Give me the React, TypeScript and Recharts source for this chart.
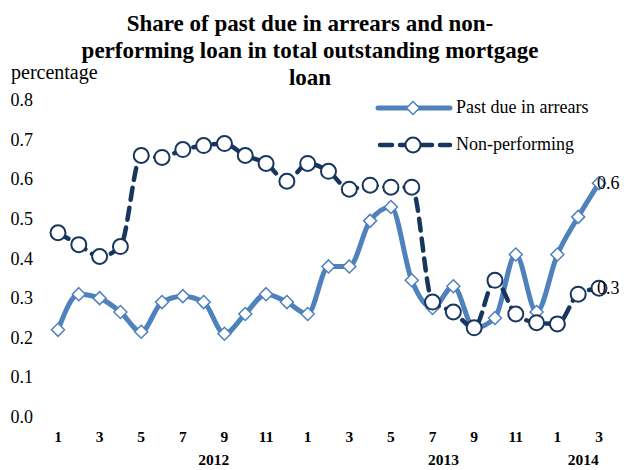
import { LineChart, Line, XAxis, YAxis, Legend, LabelList } from 'recharts';

const MONTHS = [
    '1', '2', '3', '4', '5', '6', '7', '8', '9', '10', '11', '12',
    '1', '2', '3', '4', '5', '6', '7', '8', '9', '10', '11', '12',
    '1', '2', '3',
];
const YEARS = [
    '2012', '2012', '2012', '2012', '2012', '2012', '2012', '2012', '2012', '2012', '2012', '2012',
    '2013', '2013', '2013', '2013', '2013', '2013', '2013', '2013', '2013', '2013', '2013', '2013',
    '2014', '2014', '2014',
];
const PAST_DUE = [
    0.22, 0.31, 0.30, 0.265, 0.215, 0.29, 0.305, 0.29, 0.21, 0.26, 0.31, 0.29,
    0.26, 0.38, 0.38, 0.495, 0.53, 0.345, 0.275, 0.33, 0.225, 0.25, 0.41, 0.265,
    0.41, 0.505, 0.59,
];
const NON_PERFORMING = [
    0.465, 0.435, 0.405, 0.43, 0.66, 0.655, 0.675, 0.685, 0.69, 0.66, 0.64, 0.595,
    0.64, 0.62, 0.575, 0.585, 0.58, 0.58, 0.29, 0.265, 0.225, 0.345, 0.26, 0.238,
    0.235, 0.31, 0.325,
];
// year caption shown under these category indexes
const YEAR_CAPTIONS: Record<number, { text: string; dx: number }> = {
    7: { text: '2012', dx: 10 },
    18: { text: '2013', dx: 11 },
    25: { text: '2014', dx: 5 },
};
const Y_TICKS = [0, 0.1, 0.2, 0.3, 0.4, 0.5, 0.6, 0.7, 0.8];

const FONT = '"Liberation Serif", "Times New Roman", serif';
const BLUE = '#4F81BD';
const NAVY = '#17365D';

const data = MONTHS.map((m, i) => ({
    key: `${YEARS[i]}-${m}`,
    pastDue: PAST_DUE[i],
    nonPerforming: NON_PERFORMING[i],
}));

const Diamond = ({ cx, cy }: any) => (
    <path
        d={`M${cx},${cy - 6.5} L${cx + 6.5},${cy} L${cx},${cy + 6.5} L${cx - 6.5},${cy} Z`}
        fill="#fff"
        stroke={BLUE}
        strokeWidth={1.5}
    />
);

const Ring = ({ cx, cy }: any) => (
    <circle cx={cx} cy={cy} r={7.5} fill="#fff" stroke={NAVY} strokeWidth={2} />
);

const MonthTick = ({ x, index }: any) => {
    const year = YEAR_CAPTIONS[index];
    return (
        <g fontFamily={FONT} fontWeight="bold" fontSize={15.5} fill="#000">
            {index % 2 === 0 && (
                <text x={x} y={442} textAnchor="middle">{MONTHS[index]}</text>
            )}
            {year && (
                <text x={x + year.dx} y={465} textAnchor="middle">{year.text}</text>
            )}
        </g>
    );
};

const ValueTick = ({ y, payload }: any) => (
    <text x={33} y={y} dy={6} textAnchor="end" fontFamily={FONT} fontSize={18} fill="#000">
        {Number(payload.value).toFixed(1)}
    </text>
);

const lastLabel = (props: any) => {
    const { x, y, index, value } = props;
    if (index !== data.length - 1) return null;
    return (
        <text x={x - 2} y={y} dy={6} fontFamily={FONT} fontSize={18} fill="#000">
            {Number(value).toFixed(1)}
        </text>
    );
};

const LegendBox = () => (
    <div style={{ fontFamily: FONT, fontSize: 18, color: '#000' }}>
        <div style={{ display: 'flex', alignItems: 'center', height: 37 }}>
            <svg width={86} height={20}>
                <line x1={8} y1={10} x2={80} y2={10} stroke={BLUE} strokeWidth={5} strokeLinecap="round" />
                <Diamond cx={43} cy={10} />
            </svg>
            <span>Past due in arrears</span>
        </div>
        <div style={{ display: 'flex', alignItems: 'center', height: 37 }}>
            <svg width={86} height={20}>
                <line x1={10} y1={10} x2={80} y2={10} stroke={NAVY} strokeWidth={4.5}
                      strokeLinecap="round" strokeDasharray="12 8" />
                <Ring cx={43} cy={10} />
            </svg>
            <span>Non-performing</span>
        </div>
    </div>
);

export default function App() {
    return (
        <div style={{ position: 'absolute', left: 0, top: 0, width: 627, height: 470, background: '#fff' }}>
            <div
                style={{
                    position: 'absolute', left: 60, width: 500, top: 10,
                    textAlign: 'center', fontFamily: FONT, fontWeight: 'bold',
                    fontSize: 23, lineHeight: '27px', color: '#000',
                }}
            >
                Share of past due in arrears and non-<br />
                performing loan in total outstanding mortgage<br />
                loan
            </div>
            <div style={{ position: 'absolute', left: 11, top: 61, fontFamily: FONT, fontSize: 20, color: '#000' }}>
                percentage
            </div>
            <LineChart
                width={627}
                height={470}
                data={data}
                margin={{ top: 100, right: 28, bottom: 5, left: 8 }}
                style={{ overflow: 'visible' }}
            >
                <XAxis
                    dataKey="key"
                    height={48}
                    interval={0}
                    axisLine={false}
                    tickLine={false}
                    tick={<MonthTick />}
                />
                <YAxis
                    width={50}
                    domain={[0, 0.8]}
                    ticks={Y_TICKS}
                    axisLine={false}
                    tickLine={false}
                    tick={<ValueTick />}
                />
                <Legend
                    layout="horizontal"
                    verticalAlign="middle"
                    align="center"
                    content={<LegendBox />}
                    wrapperStyle={{ left: 370, top: 89, width: 257 }}
                />
                <Line
                    type="monotone"
                    dataKey="pastDue"
                    stroke={BLUE}
                    strokeWidth={5}
                    dot={(p: any) => <Diamond key={`d-${p.index}`} {...p} />}
                    activeDot={false}
                    isAnimationActive={false}
                >
                    <LabelList dataKey="pastDue" content={lastLabel} />
                </Line>
                <Line
                    type="monotone"
                    dataKey="nonPerforming"
                    stroke={NAVY}
                    strokeWidth={4.5}
                    strokeDasharray="12 8"
                    strokeLinecap="round"
                    dot={(p: any) => <Ring key={`r-${p.index}`} {...p} />}
                    activeDot={false}
                    isAnimationActive={false}
                >
                    <LabelList dataKey="nonPerforming" content={lastLabel} />
                </Line>
            </LineChart>
        </div>
    );
}
